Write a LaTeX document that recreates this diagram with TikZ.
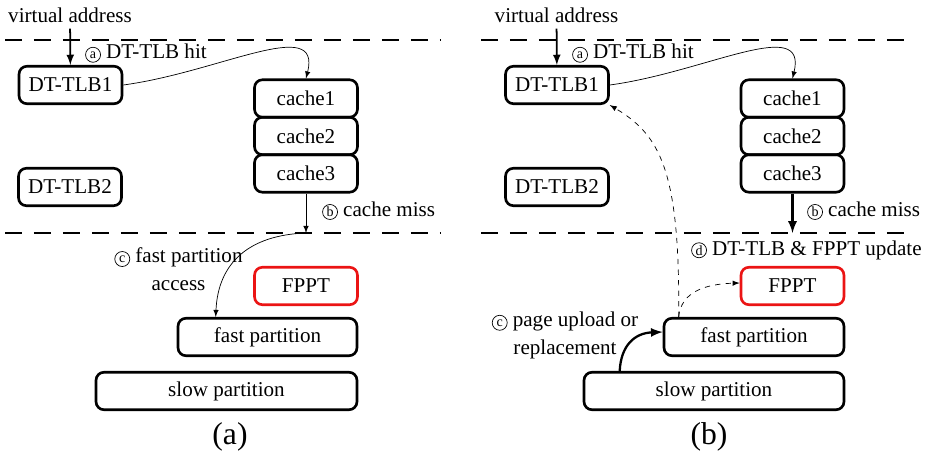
\documentclass[tikz,border=0pt]{standalone}
\usepackage{fontspec}
\setmainfont{Liberation Serif}
\usetikzlibrary{arrows}
\definecolor{fpptred}{RGB}{235,20,20}
\tikzset{
  blk/.style={draw,rounded corners=0.16cm,line width=1.5pt,minimum height=0.75cm,inner sep=0pt},
  sepline/.style={line width=1.1pt,dash pattern=on 0.34cm off 0.24cm},
}
\newcommand{\stepmark}[1]{\tikz[baseline=(m.base)]\node[circle,draw,line width=0.4pt,inner sep=0pt,minimum size=0.3cm,font=\fontsize{8}{9}\selectfont](m){#1};}

\begin{document}
\begin{tikzpicture}[x=0.02cm,y=-0.02cm,font=\fontsize{12}{14}\selectfont,>=latex]
			\useasboundingbox (0,0) rectangle (934,459);
			% separators
			\draw [sepline] (5,40) -- (440,40);
			\draw [sepline] (5,233) -- (440,233);
			\draw [sepline] (481,40) -- (906,40);
			\draw [sepline] (481,233) -- (906,233);
		
			% panel (a)
			\node (vaA) at (70,15) {virtual address};
			\node [blk,minimum width=2.06cm] (tlbOneA) at (70.5,85) {DT-TLB1};
			\node [blk,minimum width=2.06cm] (tlbTwoA) at (70,187) {DT-TLB2};
			\node [blk,minimum width=2.06cm] (cacheOneA) at (306,98.5) {cache1};
			\node [blk,minimum width=2.06cm] (cacheTwoA) at (306,136) {cache2};
			\node [blk,minimum width=2.06cm] (cacheThreeA) at (306,173.5) {cache3};
			\node [blk,minimum width=2.06cm,draw=fpptred] (fpptA) at (306,286) {FPPT};
			\node [blk,minimum width=3.58cm] (fastA) at (267.5,337) {fast partition};
			\node [blk,minimum width=5.22cm] (slowA) at (226.5,391) {slow partition};
			\coordinate (missA) at (306,233);
			\draw [->,line width=1pt] (vaA) -- (tlbOneA);
			\draw [->] (tlbOneA.east) .. controls (220,72) and (322,15) .. (cacheOneA.north);
			\draw [->] (cacheThreeA) -- (missA);
			\draw [->] (missA) .. controls (250,235) and (218,262) .. ([xshift=0.78cm]fastA.north west);
			\node [anchor=west] (hitA) at (79,53) {\stepmark{a} DT-TLB hit};
			\node [anchor=west] (missLblA) at (316,211) {\stepmark{b} cache miss};
			\node [align=center] (accA) at (178.5,269) {\stepmark{c} fast partition\\[2pt]access};
			\node [font=\fontsize{18}{20}\selectfont] (capA) at (230,437) {(a)};
		
			% panel (b)
			\node (vaB) at (556.5,15) {virtual address};
			\node [blk,minimum width=2.06cm] (tlbOneB) at (557,85) {DT-TLB1};
			\node [blk,minimum width=2.06cm] (tlbTwoB) at (557,187) {DT-TLB2};
			\node [blk,minimum width=2.06cm] (cacheOneB) at (792.5,98.5) {cache1};
			\node [blk,minimum width=2.06cm] (cacheTwoB) at (792.5,136) {cache2};
			\node [blk,minimum width=2.06cm] (cacheThreeB) at (792.5,173.5) {cache3};
			\node [blk,minimum width=2.06cm,draw=fpptred] (fpptB) at (792.5,286) {FPPT};
			\node [blk,minimum width=3.6cm] (fastB) at (754,337) {fast partition};
			\node [blk,minimum width=5.2cm] (slowB) at (714,391) {slow partition};
			\coordinate (missB) at (792.5,233);
			\draw [->,line width=1pt] (vaB) -- (tlbOneB);
			\draw [->] (tlbOneB.east) .. controls (706,72) and (808,15) .. (cacheOneB.north);
			\draw [->,line width=1.3pt] (cacheThreeB) -- (missB);
			\draw [->,dashed] ([xshift=0.32cm]fastB.north west) .. controls (680,170) and (660,135) .. (tlbOneB.south east);
			\draw [->,dashed] ([xshift=0.32cm]fastB.north west) .. controls (681,292) and (705,284) .. ([yshift=0.06cm]fpptB.west);
			\draw [->,line width=1.3pt] ([xshift=0.74cm]slowB.north west) .. controls (621,345) and (635,333) .. ([yshift=0.1cm]fastB.west);
			\node [anchor=west] (hitB) at (566,53) {\stepmark{a} DT-TLB hit};
			\node [anchor=west] (missLblB) at (801,211) {\stepmark{b} cache miss};
			\node [anchor=west] (updB) at (685,250) {\stepmark{d} DT-TLB \& FPPT update};
			\node [align=center] (upB) at (565,335) {\stepmark{c} page upload or\\[2pt]replacement};
			\node [font=\fontsize{18}{20}\selectfont] (capB) at (709,437) {(b)};
		\end{tikzpicture}
\end{document}
